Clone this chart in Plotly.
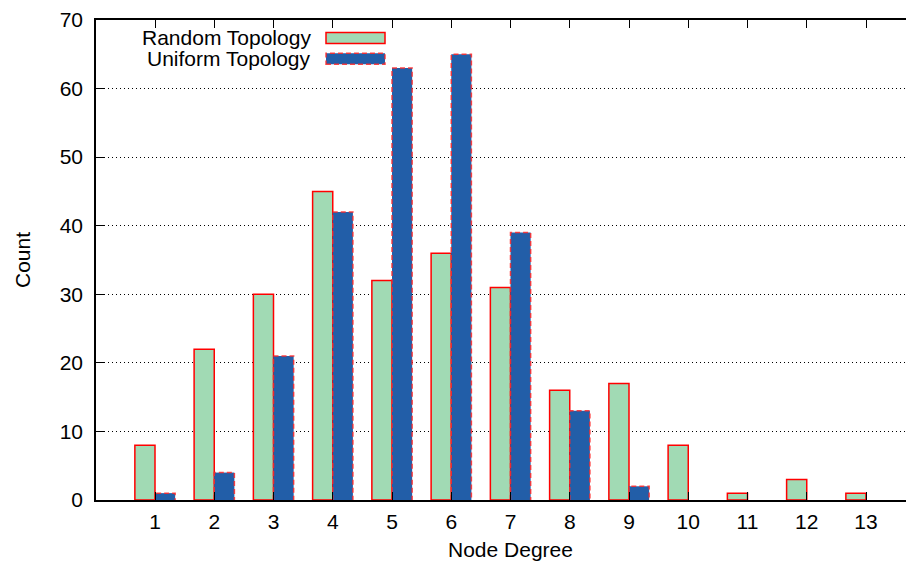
import plotly.graph_objects as go

degrees = [1, 2, 3, 4, 5, 6, 7, 8, 9, 10, 11, 12, 13]
random_counts = [8, 22, 30, 45, 32, 36, 31, 16, 17, 8, 1, 3, 1]
uniform_counts = [1, 4, 21, 42, 63, 65, 39, 13, 2, 0, 0, 0, 0]
y_ticks = [0, 10, 20, 30, 40, 50, 60, 70]

GREEN = "#a1dab4"
BLUE = "#225ea8"
RED = "#ff0000"
FONT = "Liberation Sans, Arial, Helvetica, sans-serif"
FS = 21

BAR_W = 0.34

fig = go.Figure()
fig.add_trace(go.Bar(
    x=degrees, y=random_counts, name="Random Topology",
    marker=dict(color=GREEN, line=dict(color=RED, width=1.5)),
))
fig.add_trace(go.Bar(
    x=degrees, y=uniform_counts, name="Uniform Topology",
    marker=dict(color=BLUE, line=dict(width=0)),
))

# dashed red outlines for the uniform bars, derived from data
ox, oy = [], []
for d, v in zip(degrees, uniform_counts):
    if v <= 0:
        continue
    x0 = d
    x1 = d + BAR_W
    ox += [x0, x0, x1, x1, None]
    oy += [0, v, v, 0, None]
fig.add_trace(go.Scatter(
    x=ox, y=oy, mode="lines", hoverinfo="skip", showlegend=False,
    line=dict(color="rgba(255,40,40,0.85)", width=1.5, dash="5px,3px"),
))

# page body has an 8px margin: work in screen coordinates and shift
OFF = 8
W, H = 914, 569
SL, ST, SB = 96, 18, 500          # screen positions of plot left/top/bottom
L, T = SL - OFF, ST - OFF
B = H - (SB - OFF)
R = 0
pw, ph = W - L - R, H - T - B


def px(x):
    return (x - OFF - L) / pw


def py(y):
    return (H - B - (y - OFF)) / ph


fig.update_layout(
    width=W, height=H,
    margin=dict(l=L, r=R, t=T, b=B),
    paper_bgcolor="white", plot_bgcolor="white",
    barmode="group", bargap=0.32, bargroupgap=0,
    showlegend=False,
    font=dict(family=FONT, size=FS, color="black"),
    xaxis=dict(
        range=[(SL - 95.75) / 59.25, (SL - 95.75) / 59.25 + pw / 59.25],
        tickvals=degrees, ticktext=[str(d) for d in degrees],
        showline=True, linecolor="black", linewidth=1.5, mirror="ticks",
        ticks="inside", ticklen=8, tickcolor="black", showgrid=False, zeroline=False,
        tickfont=dict(family=FONT, size=FS), ticklabelstandoff=2,
        ticklabeloverflow="allow",
    ),
    yaxis=dict(
        range=[0, 70], tickvals=y_ticks,
        showline=True, linecolor="black", linewidth=1.5, mirror=False,
        ticks="inside", ticklen=8, tickcolor="black",
        showgrid=True, gridcolor="black", griddash="1px,3px", gridwidth=1, zeroline=False,
        tickfont=dict(family=FONT, size=FS), ticklabelstandoff=7,
        ticklabeloverflow="allow",
    ),
)

# axis titles
fig.add_annotation(text="Count", x=px(22), y=py(259), xref="paper", yref="paper",
                   textangle=-90, showarrow=False, font=dict(family=FONT, size=FS),
                   xanchor="center", yanchor="middle")
fig.add_annotation(text="Node Degree", x=px(510), y=py(550), xref="paper", yref="paper",
                   showarrow=False, font=dict(family=FONT, size=FS),
                   xanchor="center", yanchor="middle")

# legend (text left of sample, as in gnuplot)
legend_rows = [
    ("Random Topology", 36, GREEN, dict(color=RED, width=1.5)),
    ("Uniform Topology", 57, BLUE, dict(color="rgba(255,40,40,0.85)", width=1.5, dash="5px,3px")),
]
for label, yc, fill, line in legend_rows:
    fig.add_annotation(text=label, x=px(313), y=py(yc), xref="paper", yref="paper",
                       showarrow=False, xanchor="right", yanchor="middle",
                       font=dict(family=FONT, size=FS))
    fig.add_shape(type="rect", xref="paper", yref="paper",
                  x0=px(326), x1=px(385), y0=py(yc + 5.5), y1=py(yc - 5.5),
                  fillcolor=fill, line=line)

fig.write_html("out.html")
